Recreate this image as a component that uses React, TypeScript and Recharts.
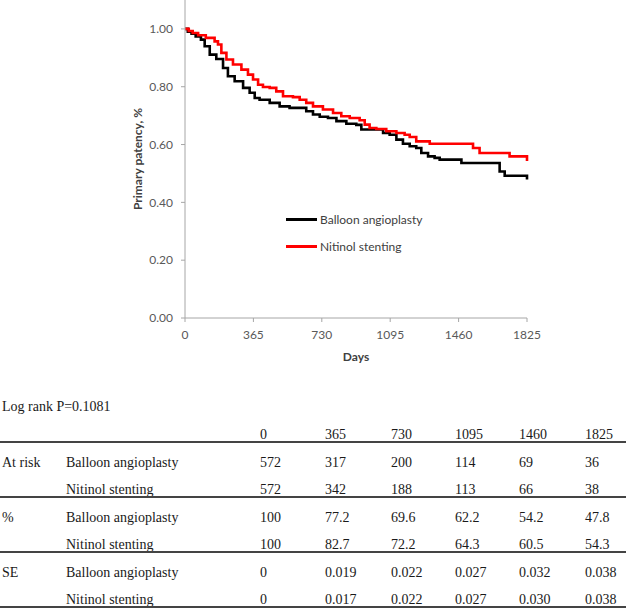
import React from "react";
import { LineChart, Line, XAxis, YAxis } from "recharts";

// Kaplan-Meier steps (days, primary patency)
const balloonDays = [0, 15, 35, 57, 85, 105, 132, 167, 203, 229, 265, 310, 345, 372, 398, 452, 505, 558, 612, 647, 683, 719, 763, 808, 861, 914, 941, 1003, 1057, 1092, 1128, 1163, 1199, 1234, 1261, 1297, 1332, 1359, 1475, 1679, 1706, 1825];
const balloonSurv = [1.0, 0.99, 0.983, 0.974, 0.963, 0.94, 0.911, 0.896, 0.865, 0.836, 0.819, 0.796, 0.779, 0.761, 0.755, 0.744, 0.732, 0.727, 0.727, 0.715, 0.704, 0.696, 0.692, 0.681, 0.672, 0.668, 0.652, 0.652, 0.64, 0.634, 0.617, 0.603, 0.594, 0.588, 0.571, 0.559, 0.554, 0.548, 0.536, 0.507, 0.492, 0.479];

const nitinolDays = [0, 20, 41, 70, 111, 158, 176, 194, 221, 256, 301, 336, 363, 390, 416, 452, 487, 523, 576, 612, 647, 683, 736, 790, 834, 879, 932, 959, 985, 1021, 1074, 1128, 1172, 1199, 1234, 1306, 1537, 1572, 1732, 1825];
const nitinolSurv = [1.0, 0.993, 0.986, 0.978, 0.969, 0.957, 0.946, 0.917, 0.894, 0.877, 0.859, 0.842, 0.825, 0.807, 0.799, 0.796, 0.784, 0.767, 0.764, 0.755, 0.744, 0.732, 0.721, 0.709, 0.698, 0.692, 0.684, 0.669, 0.657, 0.654, 0.646, 0.64, 0.634, 0.626, 0.611, 0.603, 0.588, 0.571, 0.559, 0.543];

const xTicks = [0, 365, 730, 1095, 1460, 1825];
const yTicks = [0, 0.2, 0.4, 0.6, 0.8, 1.0];

const seriesNames = ["Balloon angioplasty", "Nitinol stenting"];
const seriesColors = ["#000000", "#ff0000"];

// number-at-risk table
const tableCols = ["0", "365", "730", "1095", "1460", "1825"];
const atRiskBalloon = ["572", "317", "200", "114", "69", "36"];
const atRiskNitinol = ["572", "342", "188", "113", "66", "38"];
const pctBalloon = ["100", "77.2", "69.6", "62.2", "54.2", "47.8"];
const pctNitinol = ["100", "82.7", "72.2", "64.3", "60.5", "54.3"];
const seBalloon = ["0", "0.019", "0.022", "0.027", "0.032", "0.038"];
const seNitinol = ["0", "0.017", "0.022", "0.027", "0.030", "0.038"];

const balloon = balloonDays.map((d, i) => ({ day: d, value: balloonSurv[i] }));
const nitinol = nitinolDays.map((d, i) => ({ day: d, value: nitinolSurv[i] }));

const tickStyle = { fontFamily: "Lato", fontSize: 12, fill: "#595959" };
const axisColor = "#a6a6a6";

const colX = [260, 325, 391, 455, 519, 585];
const serif = "'Liberation Serif', 'Times New Roman', serif";

// legend sits inside the plot, drawn as an overlay so it takes no room from the chart
function LegendBox() {
  return (
    <div style={{ position: "absolute", left: 286, top: 206, fontFamily: "Lato", fontSize: 12, color: "#404040" }}>
      {seriesNames.map((n, i) => (
        <div key={n} style={{ display: "flex", alignItems: "center", height: 27 }}>
          <span style={{ display: "inline-block", width: 31, height: 3, background: seriesColors[i], marginRight: 3 }} />
          <span>{n}</span>
        </div>
      ))}
    </div>
  );
}

function Cell({ x, y, text }: { x: number; y: number; text: string }) {
  return (
    <div style={{ position: "absolute", left: x, top: y - 9, lineHeight: "18px", fontFamily: serif, fontSize: 14, color: "#1a1a1a", whiteSpace: "nowrap" }}>
      {text}
    </div>
  );
}

function Rule({ y }: { y: number }) {
  return <div style={{ position: "absolute", left: 0, top: y, width: 626, height: 2, background: "#444" }} />;
}

export default function App() {
  const rows = [
    { group: "At risk", name: seriesNames[0], vals: atRiskBalloon, y: 463 },
    { group: "", name: seriesNames[1], vals: atRiskNitinol, y: 490 },
    { group: "%", name: seriesNames[0], vals: pctBalloon, y: 518 },
    { group: "", name: seriesNames[1], vals: pctNitinol, y: 545 },
    { group: "SE", name: seriesNames[0], vals: seBalloon, y: 573 },
    { group: "", name: seriesNames[1], vals: seNitinol, y: 600 },
  ];

  return (
    <div style={{ position: "absolute", left: 0, top: 0, width: 630, height: 610, background: "#fff" }}>
      <LineChart width={630} height={380} margin={{ top: 0, right: 103, bottom: 32, left: 125 }}>
        <XAxis
          type="number"
          dataKey="day"
          domain={[0, 1825]}
          ticks={xTicks}
          allowDuplicatedCategory={false}
          height={30}
          tick={tickStyle}
          tickSize={4}
          tickMargin={8}
          axisLine={{ stroke: axisColor }}
          tickLine={{ stroke: axisColor }}
          label={{ value: "Days", position: "bottom", offset: 4, style: { fontFamily: "Lato", fontSize: 12, fontWeight: 700, fill: "#404040" } }}
        />
        <YAxis
          type="number"
          dataKey="value"
          domain={[0, 1.1]}
          ticks={yTicks}
          width={60}
          tick={tickStyle}
          tickSize={4}
          tickMargin={8}
          tickFormatter={(v: number) => v.toFixed(2)}
          axisLine={{ stroke: axisColor }}
          tickLine={{ stroke: axisColor }}
          label={{
            value: "Primary patency, %",
            angle: -90,
            position: "insideLeft",
            offset: 13,
            style: { textAnchor: "middle", fontFamily: "Lato", fontSize: 12, fontWeight: 700, fill: "#404040" },
          }}
        />
        <Line
          data={balloon}
          dataKey="value"
          name={seriesNames[0]}
          type="stepAfter"
          stroke={seriesColors[0]}
          strokeWidth={2.6}
          dot={false}
          isAnimationActive={false}
        />
        <Line
          data={nitinol}
          dataKey="value"
          name={seriesNames[1]}
          type="stepAfter"
          stroke={seriesColors[1]}
          strokeWidth={2.6}
          dot={false}
          isAnimationActive={false}
        />
      </LineChart>
      <LegendBox />

      <Cell x={2} y={407} text="Log rank P=0.1081" />
      {tableCols.map((c, i) => (
        <Cell key={c} x={colX[i]} y={435} text={c} />
      ))}
      <Rule y={441} />
      {rows.map((r, ri) => (
        <React.Fragment key={ri}>
          {r.group && <Cell x={2} y={r.y} text={r.group} />}
          <Cell x={66} y={r.y} text={r.name} />
          {r.vals.map((v, i) => (
            <Cell key={i} x={colX[i]} y={r.y} text={v} />
          ))}
        </React.Fragment>
      ))}
      <Rule y={496} />
      <Rule y={551} />
      <Rule y={606} />
    </div>
  );
}
